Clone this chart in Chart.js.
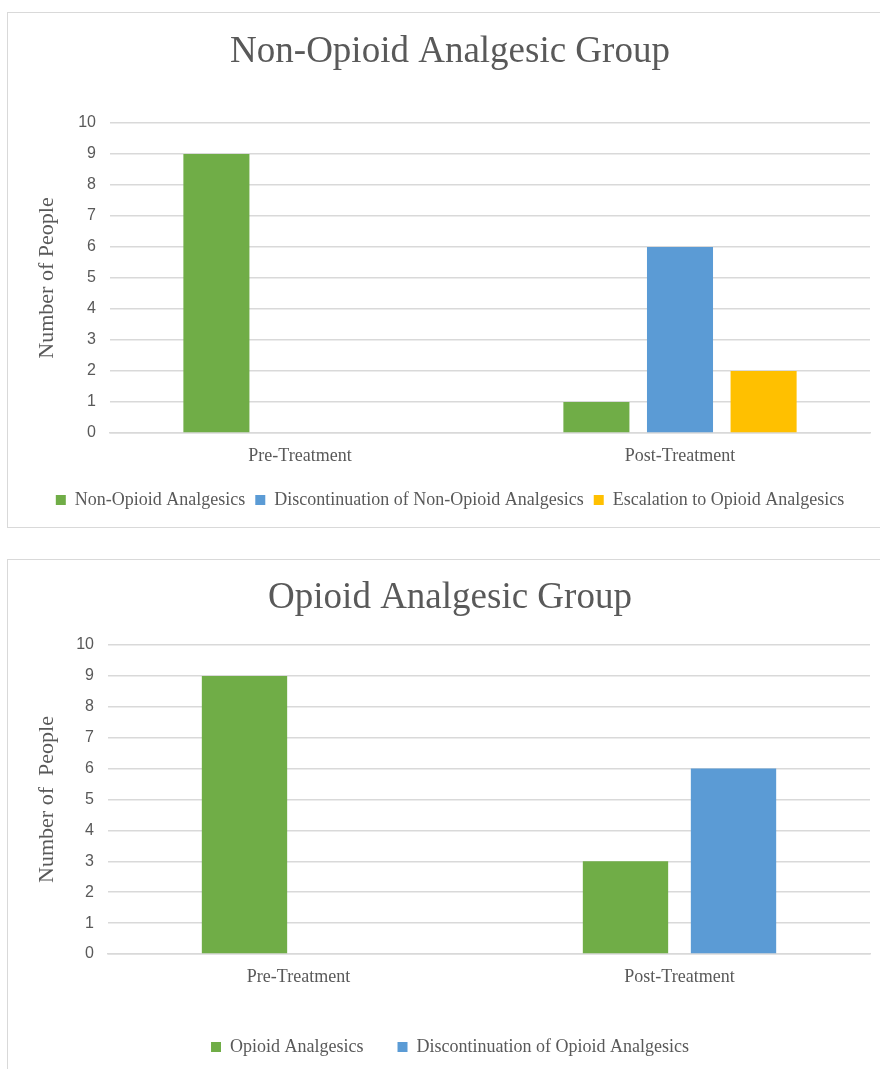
<!DOCTYPE html>
<html>
<head>
<meta charset="utf-8">
<script src="https://cdn.jsdelivr.net/npm/chart.js@4/dist/chart.umd.min.js"></script>
<style>
  html, body { margin: 0; padding: 0; background: #fff; overflow: hidden; width: 880px; height: 1069px; }
  .frame { position: absolute; left: 7px; width: 900px; border: 1px solid #d9d9d9; box-sizing: border-box; }
  #frame1 { top: 12px; height: 516px; }
  #frame2 { top: 559px; height: 540px; }
  .holder { position: absolute; left: 0; }
  #holder1 { top: 0; width: 904px; height: 525px; }
  #holder2 { top: 540px; width: 904px; height: 526px; }
  canvas { display: block; }
</style>
</head>
<body>
<div class="frame" id="frame1"></div>
<div class="frame" id="frame2"></div>
<div class="holder" id="holder1"><canvas id="nonOpioidChart" width="904" height="525"></canvas></div>
<div class="holder" id="holder2"><canvas id="opioidChart" width="904" height="526"></canvas></div>
<script>
// Categories and counts (number of people)
const categories = ['Pre-Treatment', 'Post-Treatment'];

const nonOpioidAnalgesics = [9, 1];
const discontinuationNonOpioid = [0, 6];
const escalationToOpioid = [0, 2];

const opioidAnalgesics = [9, 3];
const discontinuationOpioid = [0, 6];

const yMin = 0;
const yMax = 10;
const yStep = 1;

const GREEN = '#70AD47';
const BLUE = '#5B9BD5';
const GOLD = '#FFC000';
const TEXT = '#595959';
const GRID = '#d9d9d9';

function buildOptions(cfg) {
  return {
    responsive: false,
    animation: false,
    layout: { padding: { left: 30, right: 34, top: 0, bottom: cfg.padBottom } },
    plugins: {
      title: {
        display: true,
        text: cfg.title,
        color: TEXT,
        font: { family: 'Liberation Serif', size: 37, weight: 'normal' },
        padding: { top: cfg.titleTop, bottom: cfg.titleBottom }
      },
      legend: {
        position: 'bottom',
        labels: {
          color: TEXT,
          font: { family: 'Liberation Serif', size: 18 },
          boxWidth: 10,
          boxHeight: 10,
          padding: cfg.legendPad
        }
      },
      tooltip: { enabled: false }
    },
    scales: {
      x: {
        grid: { display: false, drawTicks: false },
        border: { color: GRID, width: 1.5 },
        ticks: { color: TEXT, font: { family: 'Liberation Serif', size: 18 }, padding: 12 },
        afterFit: s => { s.height = cfg.xHeight; }
      },
      y: {
        min: yMin,
        max: yMax,
        grid: { color: GRID, lineWidth: 1.5, drawTicks: false },
        border: { display: false },
        ticks: { stepSize: yStep, color: TEXT, font: { family: 'Liberation Sans', size: 16 }, padding: 14 },
        title: {
          display: true,
          text: cfg.yTitle,
          color: TEXT,
          font: { family: 'Liberation Serif', size: 22 },
          padding: { top: 4, bottom: 0 }
        },
        afterFit: s => { s.width = cfg.yWidth; }
      }
    }
  };
}

new Chart(document.getElementById('nonOpioidChart'), {
  type: 'bar',
  data: {
    labels: categories,
    datasets: [
      { label: 'Non-Opioid Analgesics', data: nonOpioidAnalgesics, backgroundColor: GREEN },
      { label: 'Discontinuation of Non-Opioid Analgesics', data: discontinuationNonOpioid, backgroundColor: BLUE },
      { label: 'Escalation to Opioid Analgesics', data: escalationToOpioid, backgroundColor: GOLD }
    ].map(d => Object.assign(d, { categoryPercentage: 0.66, barPercentage: 0.79, borderWidth: 0 }))
  },
  options: buildOptions({
    title: 'Non-Opioid Analgesic Group',
    titleTop: 30, titleBottom: 48.6,
    padBottom: 6, legendPad: 10, xHeight: 48,
    yTitle: 'Number of People', yWidth: 80
  })
});

new Chart(document.getElementById('opioidChart'), {
  type: 'bar',
  data: {
    labels: categories,
    datasets: [
      { label: 'Opioid Analgesics', data: opioidAnalgesics, backgroundColor: GREEN },
      { label: 'Discontinuation of Opioid Analgesics', data: discontinuationOpioid, backgroundColor: BLUE }
    ].map(d => Object.assign(d, { categoryPercentage: 0.567, barPercentage: 0.79, borderWidth: 0 }))
  },
  options: buildOptions({
    title: 'Opioid Analgesic Group',
    titleTop: 35.8, titleBottom: 24.8,
    padBottom: 0, legendPad: 34, xHeight: 50,
    yTitle: 'Number of  People', yWidth: 78
  })
});
</script>
</body>
</html>
